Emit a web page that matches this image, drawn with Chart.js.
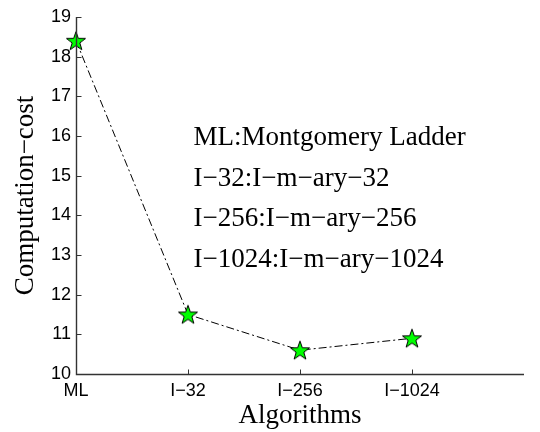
<!DOCTYPE html>
<html>
<head>
<meta charset="utf-8">
<script src="https://cdn.jsdelivr.net/npm/chart.js@4/dist/chart.umd.min.js"></script>
<style>
html,body{margin:0;padding:0;background:#fff;}
#wrap{width:540px;height:432px;position:relative;}
</style>
</head>
<body>
<div id="wrap"><canvas id="c" width="540" height="432"></canvas></div>
<script>
// ---- data ----
const categories = ["ML", "I\u221232", "I\u2212256", "I\u22121024"];
const costValues = [18.4, 11.5, 10.6, 10.9];
const yTicks = [10, 11, 12, 13, 14, 15, 16, 17, 18, 19];
const annotationLines = [
  "ML:Montgomery Ladder",
  "I\u221232:I\u2212m\u2212ary\u221232",
  "I\u2212256:I\u2212m\u2212ary\u2212256",
  "I\u22121024:I\u2212m\u2212ary\u22121024"
];
const xTitle = "Algorithms";
const yTitle = "Computation\u2212cost";

// ---- star marker ----
function makeStar(R) {
  const s = Math.ceil(R * 2 + 4);
  const cv = document.createElement('canvas');
  cv.width = s; cv.height = s;
  const g = cv.getContext('2d');
  const cx = s / 2, cy = s / 2 + 0.8, r = R * 0.4;
  g.beginPath();
  for (let i = 0; i < 10; i++) {
    const a = -Math.PI / 2 + i * Math.PI / 5;
    const rr = i % 2 === 0 ? R : r;
    const px = cx + rr * Math.cos(a), py = cy + rr * Math.sin(a);
    if (i === 0) g.moveTo(px, py); else g.lineTo(px, py);
  }
  g.closePath();
  g.fillStyle = '#00ff00';
  g.fill();
  g.lineWidth = 1;
  g.strokeStyle = '#000';
  g.stroke();
  return cv;
}
const star = makeStar(10);

const axisColor = '#333333';

const inwardTicks = {
  id: 'inwardTicks',
  afterDraw(chart) {
    const {ctx, scales: {x, y}, chartArea} = chart;
    ctx.save();
    ctx.strokeStyle = axisColor;
    ctx.lineWidth = 1.4;
    const lx = Math.round(chartArea.left) + 0.5;
    const by = Math.round(chartArea.bottom) + 0.5;
    ctx.beginPath();
    ctx.moveTo(lx, chartArea.top);
    ctx.lineTo(lx, by);
    ctx.lineTo(chartArea.right, by);
    ctx.stroke();
    ctx.lineWidth = 1;
    ctx.beginPath();
    yTicks.forEach(v => {
      const py = Math.round(y.getPixelForValue(v)) + 0.5;
      ctx.moveTo(lx, py);
      ctx.lineTo(lx + 5, py);
    });
    categories.forEach((c, i) => {
      const px = Math.round(x.getPixelForValue(i + 1)) + 0.5;
      ctx.moveTo(px, by);
      ctx.lineTo(px, by - 5);
    });
    ctx.stroke();
    ctx.restore();
  }
};

const annotationPlugin = {
  id: 'annot',
  afterDatasetsDraw(chart) {
    const {ctx, scales: {x, y}} = chart;
    const px = x.getPixelForValue(2.05);
    const py = y.getPixelForValue(15.77);
    ctx.save();
    ctx.fillStyle = '#000';
    ctx.font = '27px "Liberation Serif"';
    ctx.textBaseline = 'alphabetic';
    ctx.textAlign = 'left';
    annotationLines.forEach((t, i) => ctx.fillText(t, px, py + i * 40.5));
    ctx.restore();
  }
};

new Chart(document.getElementById('c'), {
  type: 'line',
  data: {
    datasets: [{
      data: costValues.map((v, i) => ({x: i + 1, y: v})),
      borderColor: '#000',
      borderWidth: 1,
      borderDash: [8, 3, 2, 3],
      fill: false,
      tension: 0,
      pointStyle: star,
      pointRadius: 10,
      clip: false
    }]
  },
  options: {
    responsive: false,
    animation: false,
    devicePixelRatio: 1,
    layout: {padding: {top: 17, right: 16, left: 0, bottom: 0}},
    plugins: {legend: {display: false}, tooltip: {enabled: false}},
    scales: {
      x: {
        type: 'linear', min: 1, max: 5,
        afterFit(s) { s.height = 58; },
        afterBuildTicks(s) { s.ticks = [1, 2, 3, 4, 5].map(v => ({value: v})); },
        grid: {display: false, drawTicks: false},
        border: {display: false},
        ticks: {
          padding: 6,
          color: '#000',
          font: {family: 'Liberation Sans', size: 18},
          callback: v => categories[v - 1] ?? ''
        },
        title: {
          display: true, text: xTitle, color: '#000',
          font: {family: 'Liberation Serif', size: 27, lineHeight: 1.2},
          padding: {top: 0, bottom: 0}
        }
      },
      y: {
        type: 'linear', min: 10, max: 19,
        afterFit(s) { s.width = 76; },
        afterBuildTicks(s) { s.ticks = yTicks.map(v => ({value: v})); },
        grid: {display: false, drawTicks: false},
        border: {display: false},
        ticks: {
          padding: 5,
          color: '#000',
          font: {family: 'Liberation Sans', size: 18}
        },
        title: {
          display: true, text: yTitle, color: '#000',
          font: {family: 'Liberation Serif', size: 27, lineHeight: 1.2},
          padding: {top: 10, bottom: 0}
        }
      }
    }
  },
  plugins: [inwardTicks, annotationPlugin]
});
</script>
</body>
</html>
